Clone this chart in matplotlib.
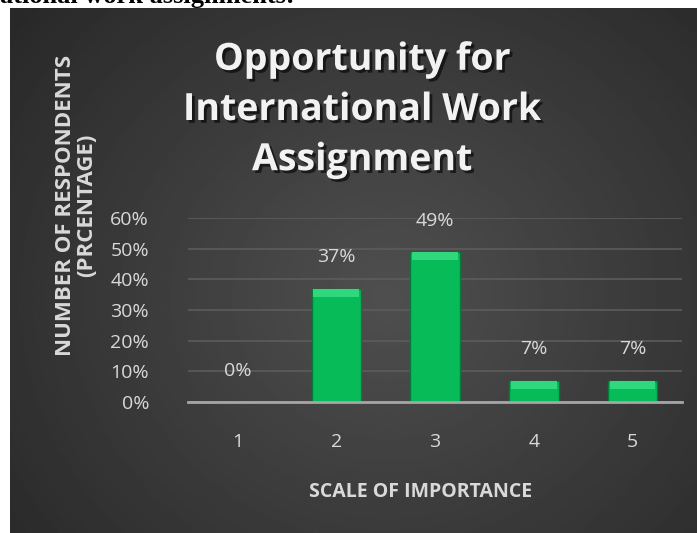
import numpy as np
import matplotlib
matplotlib.use('Agg')
import matplotlib.pyplot as plt
import matplotlib.patheffects as pe

categories = ['1', '2', '3', '4', '5']
shares = [0.00, 0.37, 0.49, 0.07, 0.07]
value_labels = ['0%', '37%', '49%', '7%', '7%']
yticks = [0.0, 0.1, 0.2, 0.3, 0.4, 0.5, 0.6]

plt.rcParams['font.family'] = ['Open Sans', 'DejaVu Sans']

fig = plt.figure(figsize=(6.99, 5.33), dpi=100)
fig.patch.set_facecolor('white')

# dark panel with soft radial gradient
bg = fig.add_axes([10 / 699, 0, 687 / 699, 1 - 8 / 533])
gx, gy = np.meshgrid(np.linspace(0, 1, 300), np.linspace(0, 1, 240))
r = np.sqrt(((gx - 0.55) / 0.75) ** 2 + ((gy - 0.45) / 0.9) ** 2)
shade = np.clip(0.31 - 0.16 * r, 0.16, 0.31)
bg.imshow(shade, cmap='gray', vmin=0, vmax=1, aspect='auto', extent=[0, 1, 0, 1], origin='lower')
bg.set_axis_off()

# cropped caption from the page above the chart
fig.text(0.0, 1 - 3 / 533, 'ational work assignments:', family='Liberation Serif',
         fontweight='bold', fontsize=19, color='black', ha='left', va='baseline')

ax = fig.add_axes([188 / 699, 1 - 402 / 533, 494 / 699, 184 / 533])
ax.set_facecolor('none')
x = np.arange(len(categories))
ax.bar(x, shares, width=0.5, color='#07bb58', edgecolor='#067a38', linewidth=1, zorder=3)
bevel = 0.028
ax.bar(x, [bevel if v > 0 else 0 for v in shares], width=0.46,
       bottom=[v - bevel if v > 0 else 0 for v in shares], color='#2fd77d', linewidth=0, zorder=4)

for xi, v, lab in zip(x, shares, value_labels):
    ax.annotate(lab, (xi, v), xytext=(0, 16), textcoords='offset points',
                ha='center', va='bottom', color='#d9d9d9', fontsize=14)

ax.set_xlim(-0.5, len(categories) - 0.5)
ax.set_ylim(0, 0.6)
ax.set_yticks(yticks)
ax.set_yticklabels([f'{int(round(t * 100))}%' for t in yticks])
ax.set_xticks(x)
ax.set_xticklabels(categories)
ax.tick_params(axis='both', length=0, colors='#d9d9d9', labelsize=14)
ax.tick_params(axis='y', pad=28)
ax.tick_params(axis='x', pad=22)
ax.yaxis.grid(True, color='#5c5c5c', linewidth=1.2, zorder=0)
ax.set_axisbelow(True)
for s in ['top', 'right', 'left']:
    ax.spines[s].set_visible(False)
ax.spines['bottom'].set_color('#a6a6a6')
ax.spines['bottom'].set_linewidth(2)
ax.spines['bottom'].set_zorder(5)

ax.set_xlabel('SCALE OF IMPORTANCE', color='#d9d9d9', fontsize=14, fontweight='bold')
ax.xaxis.set_label_coords(0.47, -0.49)
ax.xaxis.label.set_va('center')

fig.text(76 / 699, 1 - 205 / 533, 'NUMBER OF RESPONDENTS\n(PRCENTAGE)', rotation=90,
         ha='center', va='center', color='#d9d9d9', fontsize=16, fontweight='bold',
         linespacing=1.05, multialignment='center')

shadow = [pe.withSimplePatchShadow(offset=(2, -2), shadow_rgbFace='black', alpha=0.6)]
fig.text(362 / 699, 1 - 110 / 533, 'Opportunity for\nInternational Work\nAssignment',
         ha='center', va='center', color='#f2f2f2', fontsize=27, fontweight='bold',
         linespacing=1.42, path_effects=shadow)

fig.savefig('out.png', dpi=100)
